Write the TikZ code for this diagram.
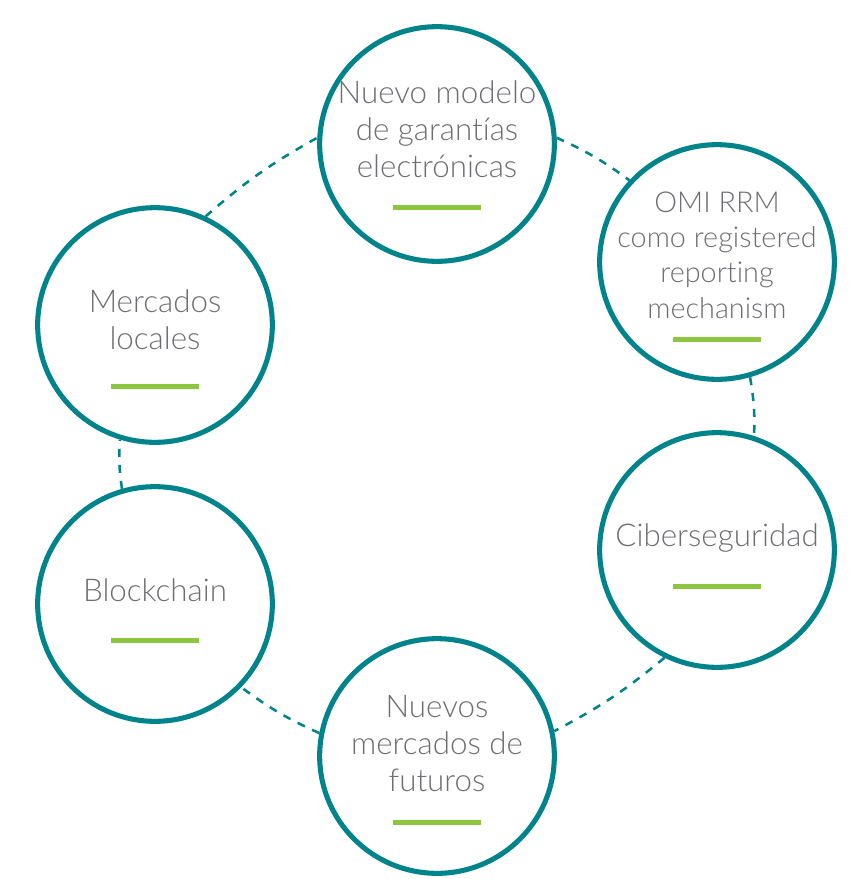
\documentclass[tikz,border=0pt]{standalone}
\usepackage{fontspec}
\newfontfamily\latl{Lato Light}[Ligatures=NoCommon]
\definecolor{teal1}{HTML}{00838A}
\definecolor{lime1}{HTML}{8CC63F}
\definecolor{txt}{HTML}{6D6E71}
\begin{document}
\begin{tikzpicture}[x=0.75pt,y=-0.75pt,
 ring/.style={circle,draw=teal1,line width=3.8pt,minimum size=176pt,inner sep=0pt},
 lbl/.style={align=center,text=txt,inner sep=0pt,font=\latl\fontsize{23.5}{27.75}\selectfont},
 lblsmall/.style={align=center,text=txt,inner sep=0pt,font=\latl\fontsize{21.6}{26.5}\selectfont},
 bar/.style={draw=lime1,line width=3.75pt},
 link/.style={draw=teal1,line width=1.9pt,dash pattern=on 6pt off 6pt,bend left=6}]
\useasboundingbox (0,0) rectangle (852,879);
\node[ring] (A) at (437,144) {};
\node[ring] (B) at (717,262) {};
\node[ring] (C) at (717,550) {};
\node[ring] (D) at (437,756) {};
\node[ring] (E) at (155,604) {};
\node[ring] (F) at (155,325) {};
\node[lbl] (tA) at (437,129) {Nuevo modelo\\de garantías\\electrónicas};
\node[lblsmall] (tB) at (717,255) {OMI RRM\\como registered\\reporting\\mechanism};
\node[lbl] (tC) at (717,538) {Ciberseguridad};
\node[lbl] (tD) at (437,744) {Nuevos\\mercados de\\futuros};
\node[lbl] (tE) at (155,590) {Blockchain};
\node[lbl] (tF) at (155,320) {Mercados\\locales};
\draw[bar] (393,207) -- (481,207);
\draw[bar] (673,339) -- (761,339);
\draw[bar] (673,586) -- (761,586);
\draw[bar] (393,822) -- (481,822);
\draw[bar] (111,640) -- (199,640);
\draw[bar] (111,386) -- (199,386);
\draw[link] (F.65) to (A.177);
\draw[link] (A.3) to (B.137);
\draw[link] (B.-74) to (C.72);
\draw[link] (C.-116) to (D.12);
\draw[link] (D.169) to (E.-44);
\draw[link] (E.106) to (F.-107);
\end{tikzpicture}
\end{document}
